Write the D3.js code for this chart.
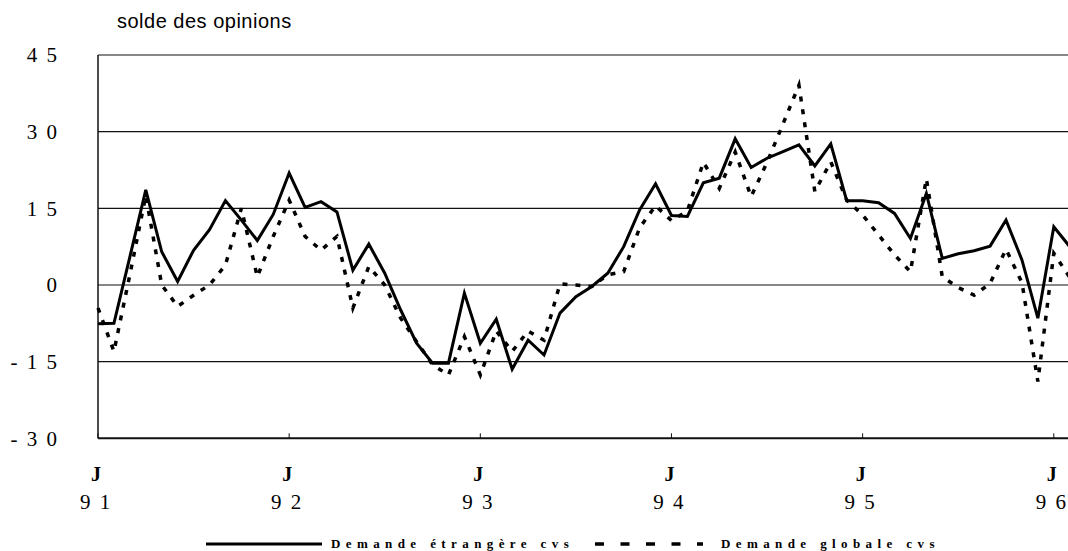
<!DOCTYPE html>
<html><head><meta charset="utf-8">
<script src="https://cdn.jsdelivr.net/npm/d3@7/dist/d3.min.js"></script>
<style>html,body{margin:0;padding:0;background:#fff}svg{display:block}</style>
</head><body><div id="chart"></div>
<script>
const months = ["J91","F91","M91","A91","M91b","J91b","J91c","A91b","S91","O91","N91","D91",
"J92","F92","M92","A92","M92b","J92b","J92c","A92b","S92","O92","N92","D92",
"J93","F93","M93","A93","M93b","J93b","J93c","A93b","S93","O93","N93","D93",
"J94","F94","M94","A94","M94b","J94b","J94c","A94b","S94","O94","N94","D94",
"J95","F95","M95","A95","M95b","J95b","J95c","A95b","S95","O95","N95","D95",
"J96","F96"];
const demandeEtrangere = [-7.6,-7.5,5.5,18.6,6.5,0.7,6.8,10.8,16.5,12.7,8.7,13.8,
21.9,15.2,16.3,14.3,2.9,8.0,2.3,-4.9,-11.4,-15.3,-15.3,-1.6,
-11.4,-6.7,-16.5,-10.8,-13.7,-5.5,-2.3,-0.3,2.3,7.5,14.7,19.8,
13.6,13.4,20.0,20.9,28.6,23.0,24.8,26.1,27.4,23.3,27.6,16.5,
16.5,16.1,14.0,9.1,17.9,5.2,6.1,6.7,7.6,12.7,4.9,-6.5,
11.4,7.5];
const demandeGlobale = [-4.5,-13.0,2.0,17.5,0.0,-4.2,-2.0,0.0,3.9,15.0,1.6,9.5,
16.6,9.5,6.8,9.5,-4.5,3.6,0.0,-6.5,-11.1,-15.6,-17.6,-10.1,
-17.6,-9.0,-13.0,-9.0,-10.8,0.2,0.0,-0.3,2.0,2.6,11.2,15.5,
12.6,14.5,24.0,18.9,26.0,17.3,24.0,31.5,39.1,18.3,24.1,16.6,
13.7,9.8,5.9,2.6,20.8,1.6,-0.5,-2.0,0.3,7.0,0.5,-18.9,
6.2,1.5];
const yTicks = [45,30,15,0,-15,-30];
const yTickLabels = ["4 5","3 0","1 5","0","- 1 5","- 3 0"];
const xTickMonths = ["J91","J92","J93","J94","J95","J96"];
const xTickTop = ["J","J","J","J","J","J"];
const xTickBottom = ["9 1","9 2","9 3","9 4","9 5","9 6"];
const seriesNames = ["Demande étrangère cvs","Demande globale cvs"];

(function () {
const W = 1068, H = 551;
const pLeft = 98, pRight = 1068, pTop = 55, pBottom = 438.3;
const svg = d3.select("#chart").append("svg").attr("width", W).attr("height", H);

const x = d3.scalePoint().domain(months).range([pLeft, pLeft + 61 * 15.93]);
const y = d3.scaleLinear().domain([-30, 45]).range([pBottom, pTop]);

svg.append("text").attr("x", 117).attr("y", 28)
  .attr("font-family", "Liberation Sans, Arial, sans-serif").attr("font-size", 20)
  .attr("letter-spacing", 0.5).attr("fill", "#000").text("solde des opinions");

svg.append("g").selectAll("line").data(yTicks.filter(d => d > -30)).join("line")
  .attr("x1", pLeft).attr("x2", pRight).attr("y1", d => y(d)).attr("y2", d => y(d))
  .attr("stroke", "#111").attr("stroke-width", 1.2);

svg.append("line").attr("x1", pLeft).attr("x2", pLeft).attr("y1", pTop).attr("y2", pBottom)
  .attr("stroke", "#111").attr("stroke-width", 1.5);
svg.append("line").attr("x1", pLeft).attr("x2", pRight).attr("y1", pBottom).attr("y2", pBottom)
  .attr("stroke", "#111").attr("stroke-width", 2);
svg.append("g").selectAll("line").data(xTickMonths).join("line")
  .attr("x1", d => x(d)).attr("x2", d => x(d)).attr("y1", pBottom).attr("y2", pBottom - 5)
  .attr("stroke", "#111").attr("stroke-width", 1);

svg.append("g").selectAll("text").data(yTicks).join("text")
  .attr("x", 59).attr("y", d => y(d)).attr("dy", "0.35em")
  .attr("text-anchor", "end").attr("font-family", "Liberation Serif, Times New Roman, serif")
  .attr("font-size", 21).attr("letter-spacing", 2).attr("fill", "#000")
  .text((d, i) => yTickLabels[i]);

const xl = svg.append("g");
xl.selectAll("text.top").data(xTickMonths).join("text").attr("class", "top")
  .attr("x", d => x(d) - 2).attr("y", 481).attr("text-anchor", "middle")
  .attr("font-family", "Liberation Serif, Times New Roman, serif").attr("font-weight", "bold")
  .attr("font-size", 20).attr("fill", "#000").text((d, i) => xTickTop[i]);
xl.selectAll("text.bot").data(xTickMonths).join("text").attr("class", "bot")
  .attr("x", d => x(d) - 2).attr("y", 509).attr("text-anchor", "middle")
  .attr("font-family", "Liberation Serif, Times New Roman, serif")
  .attr("font-size", 21).attr("letter-spacing", 2).attr("fill", "#000").text((d, i) => xTickBottom[i]);

const line = d3.line().x((d, i) => x(months[i])).y(d => y(d));
svg.append("path").datum(demandeEtrangere).attr("d", line)
  .attr("fill", "none").attr("stroke", "#000").attr("stroke-width", 3)
  .attr("stroke-linejoin", "miter");
svg.append("path").datum(demandeGlobale).attr("d", line)
  .attr("fill", "none").attr("stroke", "#000").attr("stroke-width", 3.5)
  .attr("stroke-dasharray", "5,8").attr("stroke-linejoin", "miter");

const lg = svg.append("g");
lg.append("line").attr("x1", 206).attr("x2", 322).attr("y1", 544).attr("y2", 544)
  .attr("stroke", "#000").attr("stroke-width", 3);
lg.append("text").attr("x", 331).attr("y", 548)
  .attr("font-family", "Liberation Serif, Times New Roman, serif").attr("font-weight", "bold")
  .attr("font-size", 13).attr("letter-spacing", 5.4).attr("fill", "#000").text(seriesNames[0]);
lg.append("line").attr("x1", 595).attr("x2", 703).attr("y1", 544).attr("y2", 544)
  .attr("stroke", "#000").attr("stroke-width", 3.5).attr("stroke-dasharray", "9,16.5");
lg.append("text").attr("x", 721).attr("y", 548)
  .attr("font-family", "Liberation Serif, Times New Roman, serif").attr("font-weight", "bold")
  .attr("font-size", 13).attr("letter-spacing", 5.4).attr("fill", "#000").text(seriesNames[1]);
})();
</script></body></html>
